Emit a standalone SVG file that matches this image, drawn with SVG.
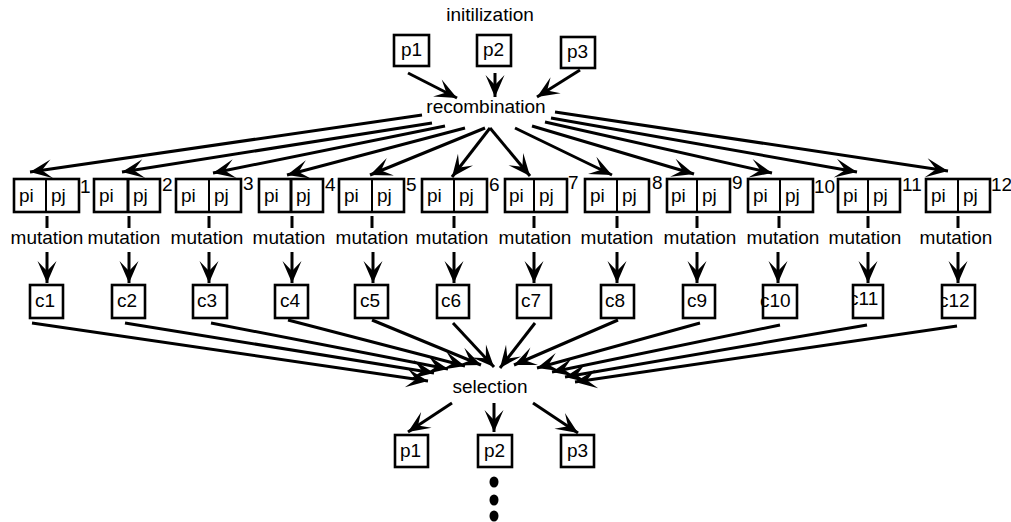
<svg xmlns="http://www.w3.org/2000/svg" width="1011" height="522" viewBox="0 0 1011 522">
<style>
text{font-family:"Liberation Sans",Arial,sans-serif;font-size:19px;fill:#000}
.bx{fill:none;stroke:#000;stroke-width:2.6}
.ln{stroke:#000;stroke-width:3;fill:none;marker-end:url(#ah)}
.tk{stroke:#000;stroke-width:3}
.mid{text-anchor:middle}
</style>
<defs>
<marker id="ah" markerUnits="userSpaceOnUse" markerWidth="26" markerHeight="22" refX="22" refY="10" orient="auto" overflow="visible">
<path d="M22,10 L0,0.5 L10,10 L0,19.5 z" fill="#000"/>
</marker>
<clipPath id="k11"><rect x="853" y="285" width="30" height="33"/></clipPath>
<clipPath id="k12"><rect x="942" y="285" width="33" height="33"/></clipPath>
</defs>

<text id="init" x="490" y="21" class="mid">initilization</text>
<text id="recomb" x="486" y="113" class="mid">recombination</text>
<text id="sel" x="490" y="393" class="mid">selection</text>

<g id="p1top"><rect class="bx" x="394" y="35" width="35" height="31"/><text x="401" y="56">p1</text></g>
<g id="p2top"><rect class="bx" x="477" y="35" width="34" height="31"/><text x="483" y="56">p2</text></g>
<g id="p3top"><rect class="bx" x="561" y="37" width="34" height="31"/><text x="567" y="58">p3</text></g>

<g id="pair1"><rect class="bx" x="14" y="179" width="65" height="33"/><line class="tk" x1="46" y1="179" x2="46" y2="212" style="stroke-width:2"/><text x="19" y="202">pi</text><text x="51" y="202">pj</text><text x="80" y="193">1</text></g>
<g id="pair2"><rect class="bx" x="94" y="179" width="66" height="33"/><line class="tk" x1="128" y1="179" x2="128" y2="212" style="stroke-width:3"/><text x="99" y="202">pi</text><text x="133" y="202">pj</text><text x="162" y="191">2</text></g>
<g id="pair3"><rect class="bx" x="176" y="179" width="65" height="33"/><line class="tk" x1="209" y1="179" x2="209" y2="212" style="stroke-width:2"/><text x="181" y="202">pi</text><text x="214" y="202">pj</text><text x="243" y="190">3</text></g>
<g id="pair4"><rect class="bx" x="259" y="179" width="64" height="33"/><line class="tk" x1="291" y1="179" x2="291" y2="212" style="stroke-width:3"/><text x="264" y="202">pi</text><text x="296" y="202">pj</text><text x="325" y="191">4</text></g>
<g id="pair5"><rect class="bx" x="339" y="179" width="65" height="33"/><line class="tk" x1="372" y1="179" x2="372" y2="212" style="stroke-width:2"/><text x="344" y="202">pi</text><text x="377" y="202">pj</text><text x="406" y="191">5</text></g>
<g id="pair6"><rect class="bx" x="422" y="179" width="65" height="33"/><line class="tk" x1="454" y1="179" x2="454" y2="212" style="stroke-width:2"/><text x="427" y="202">pi</text><text x="459" y="202">pj</text><text x="489" y="191">6</text></g>
<g id="pair7"><rect class="bx" x="505" y="179" width="62" height="33"/><line class="tk" x1="534" y1="179" x2="534" y2="212" style="stroke-width:2"/><text x="509" y="202">pi</text><text x="539" y="202">pj</text><text x="568" y="189">7</text></g>
<g id="pair8"><rect class="bx" x="585" y="179" width="64" height="33"/><line class="tk" x1="617" y1="179" x2="617" y2="212" style="stroke-width:2"/><text x="590" y="202">pi</text><text x="622" y="202">pj</text><text x="652" y="189">8</text></g>
<g id="pair9"><rect class="bx" x="667" y="179" width="63" height="33"/><line class="tk" x1="697" y1="179" x2="697" y2="212" style="stroke-width:2"/><text x="671" y="202">pi</text><text x="702" y="202">pj</text><text x="732" y="189">9</text></g>
<g id="pair10"><rect class="bx" x="748" y="179" width="65" height="33"/><line class="tk" x1="780" y1="179" x2="780" y2="212" style="stroke-width:2"/><text x="753" y="202">pi</text><text x="785" y="202">pj</text><text x="814" y="193">10</text></g>
<g id="pair11"><rect class="bx" x="838" y="179" width="62" height="33"/><line class="tk" x1="868" y1="179" x2="868" y2="212" style="stroke-width:2"/><text x="843" y="202">pi</text><text x="873" y="202">pj</text><text x="902" y="191">11</text></g>
<g id="pair12"><rect class="bx" x="926" y="179" width="64" height="33"/><line class="tk" x1="958" y1="179" x2="958" y2="212" style="stroke-width:2"/><text x="931" y="202">pi</text><text x="963" y="202">pj</text><text x="991" y="191">12</text></g>

<g id="mutations">
<text class="mid" x="47" y="244">mutation</text>
<text class="mid" x="124" y="244">mutation</text>
<text class="mid" x="207" y="244">mutation</text>
<text class="mid" x="289" y="244">mutation</text>
<text class="mid" x="372" y="244">mutation</text>
<text class="mid" x="452" y="244">mutation</text>
<text class="mid" x="535" y="244">mutation</text>
<text class="mid" x="617" y="244">mutation</text>
<text class="mid" x="700" y="244">mutation</text>
<text class="mid" x="783" y="244">mutation</text>
<text class="mid" x="865" y="244">mutation</text>
<text class="mid" x="956" y="244">mutation</text>
</g>

<g id="c1"><rect class="bx" x="30" y="285" width="33" height="33"/><text x="35" y="307">c1</text></g>
<g id="c2"><rect class="bx" x="112" y="285" width="33" height="33"/><text x="117" y="307">c2</text></g>
<g id="c3"><rect class="bx" x="193" y="285" width="34" height="33"/><text x="197" y="307">c3</text></g>
<g id="c4"><rect class="bx" x="275" y="285" width="33" height="33"/><text x="280" y="307">c4</text></g>
<g id="c5"><rect class="bx" x="355" y="285" width="33" height="33"/><text x="360" y="307">c5</text></g>
<g id="c6"><rect class="bx" x="437" y="285" width="32" height="33"/><text x="441" y="307">c6</text></g>
<g id="c7"><rect class="bx" x="517" y="285" width="34" height="33"/><text x="521" y="307">c7</text></g>
<g id="c8"><rect class="bx" x="601" y="285" width="33" height="33"/><text x="605" y="307">c8</text></g>
<g id="c9"><rect class="bx" x="683" y="285" width="32" height="33"/><text x="687" y="307">c9</text></g>
<g id="c10"><text x="760" y="307">c10</text><rect class="bx" x="763" y="285" width="34" height="33"/></g>
<g id="c11"><text x="849" y="305" clip-path="url(#k11)">c11</text><rect class="bx" x="853" y="285" width="30" height="33"/></g>
<g id="c12"><text x="939" y="307" clip-path="url(#k12)">c12</text><rect class="bx" x="942" y="285" width="33" height="33"/></g>

<g id="p1bot"><rect class="bx" x="395" y="435" width="33" height="32"/><text x="400" y="457">p1</text></g>
<g id="p2bot"><rect class="bx" x="478" y="435" width="34" height="32"/><text x="484" y="457">p2</text></g>
<g id="p3bot"><rect class="bx" x="561" y="435" width="33" height="32"/><text x="567" y="457">p3</text></g>

<g id="dots">
<ellipse cx="494" cy="482" rx="4.5" ry="5.5"/>
<ellipse cx="494" cy="500" rx="4.5" ry="5.5"/>
<ellipse cx="494" cy="516" rx="4.5" ry="5.5"/>
</g>

<g id="connectors">
<line class="ln" x1="408" y1="73" x2="457" y2="98"/>
<line class="ln" x1="495" y1="73" x2="495" y2="97"/>
<line class="ln" x1="580" y1="70" x2="537" y2="97"/>

<line class="ln" x1="422" y1="115" x2="30" y2="172"/>
<line class="ln" x1="432" y1="123" x2="122" y2="172"/>
<line class="ln" x1="445" y1="126" x2="213" y2="173"/>
<line class="ln" x1="465" y1="128" x2="287" y2="175"/>
<line class="ln" x1="485" y1="128" x2="370" y2="175"/>
<line class="ln" x1="490" y1="128" x2="452" y2="177"/>
<line class="ln" x1="490" y1="128" x2="530" y2="176"/>
<line class="ln" x1="515" y1="128" x2="612" y2="175"/>
<line class="ln" x1="532" y1="126" x2="694" y2="174"/>
<line class="ln" x1="545" y1="122" x2="772" y2="173"/>
<line class="ln" x1="551" y1="118" x2="857" y2="172"/>
<line class="ln" x1="555" y1="112" x2="948" y2="171"/>

<line class="tk" x1="47" y1="216" x2="47" y2="228"/>
<line class="tk" x1="129" y1="216" x2="129" y2="228"/>
<line class="tk" x1="209" y1="216" x2="209" y2="228"/>
<line class="tk" x1="292" y1="216" x2="292" y2="228"/>
<line class="tk" x1="372" y1="216" x2="372" y2="228"/>
<line class="tk" x1="454" y1="216" x2="454" y2="228"/>
<line class="tk" x1="534" y1="216" x2="534" y2="228"/>
<line class="tk" x1="617" y1="216" x2="617" y2="228"/>
<line class="tk" x1="697" y1="216" x2="697" y2="228"/>
<line class="tk" x1="779" y1="216" x2="779" y2="228"/>
<line class="tk" x1="868" y1="216" x2="868" y2="228"/>
<line class="tk" x1="958" y1="216" x2="958" y2="228"/>

<line class="ln" x1="47" y1="252" x2="47" y2="283"/>
<line class="ln" x1="129" y1="252" x2="129" y2="283"/>
<line class="ln" x1="209" y1="252" x2="209" y2="283"/>
<line class="ln" x1="292" y1="252" x2="292" y2="283"/>
<line class="ln" x1="373" y1="252" x2="373" y2="283"/>
<line class="ln" x1="454" y1="252" x2="454" y2="283"/>
<line class="ln" x1="534" y1="252" x2="534" y2="283"/>
<line class="ln" x1="617" y1="252" x2="617" y2="283"/>
<line class="ln" x1="697" y1="252" x2="697" y2="283"/>
<line class="ln" x1="778" y1="252" x2="778" y2="283"/>
<line class="ln" x1="868" y1="252" x2="868" y2="283"/>
<line class="ln" x1="958" y1="252" x2="958" y2="283"/>

<line class="ln" x1="32" y1="323" x2="428" y2="381"/>
<line class="ln" x1="125" y1="323" x2="434" y2="373"/>
<line class="ln" x1="211" y1="323" x2="448" y2="369"/>
<line class="ln" x1="288" y1="320" x2="465" y2="366"/>
<line class="ln" x1="372" y1="320" x2="481" y2="365"/>
<line class="ln" x1="453" y1="323" x2="494" y2="367"/>
<line class="ln" x1="535" y1="323" x2="500" y2="368"/>
<line class="ln" x1="618" y1="320" x2="514" y2="365"/>
<line class="ln" x1="700" y1="323" x2="537" y2="368"/>
<line class="ln" x1="780" y1="325" x2="552" y2="372"/>
<line class="ln" x1="867" y1="325" x2="565" y2="377"/>
<line class="ln" x1="957" y1="326" x2="575" y2="382"/>

<line class="ln" x1="452" y1="403" x2="408" y2="432"/>
<line class="ln" x1="494" y1="403" x2="494" y2="432"/>
<line class="ln" x1="533" y1="403" x2="578" y2="433"/>
</g>
</svg>
